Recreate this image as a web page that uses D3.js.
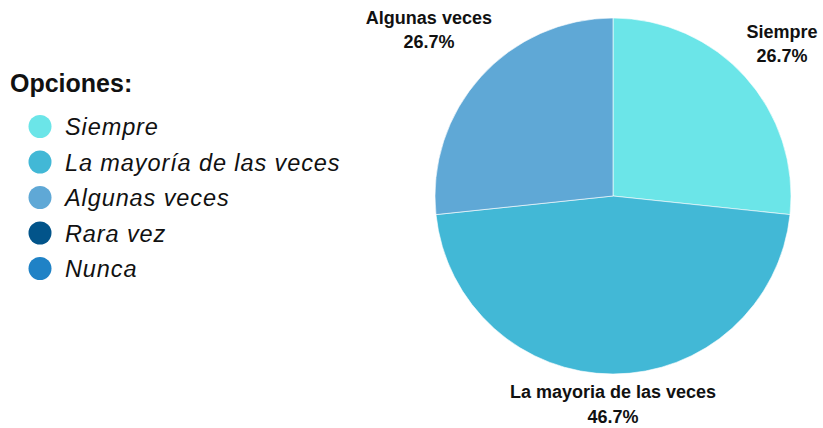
<!DOCTYPE html>
<html>
<head>
<meta charset="utf-8">
<script src="https://cdn.jsdelivr.net/npm/d3@7"></script>
<style>
  html, body { margin: 0; padding: 0; background: #fff; }
  svg { display: block; font-family: "Liberation Sans", Arial, sans-serif; }
</style>
</head>
<body>
<svg id="chart" width="823" height="428"></svg>
<script>
// opciones de la encuesta
const categorias = ['Siempre', 'La mayoría de las veces', 'Algunas veces', 'Rara vez', 'Nunca']
const etiquetasPie = ['Siempre', 'La mayoria de las veces', 'Algunas veces', 'Rara vez', 'Nunca']
const respuestas = [4, 7, 4, 0, 0]
const colores = ['#6be5e8', '#42b8d6', '#5fa8d6', '#02548a', '#1f82c6']

const width = 823, height = 428
const svg = d3.select('#chart')

const color = d3.scaleOrdinal().domain(categorias).range(colores)

// leyenda
const leyenda = svg.append('g').attr('transform', 'translate(10,0)')
leyenda.append('text')
  .attr('x', 0).attr('y', 92)
  .attr('font-size', 25).attr('font-weight', 'bold')
  .attr('fill', '#111')
  .text('Opciones:')

const fila = d3.scalePoint().domain(categorias).range([126.5, 268.5])

const item = leyenda.selectAll('.item')
  .data(categorias)
  .enter().append('g')
  .attr('class', 'item')
  .attr('transform', d => `translate(0,${fila(d)})`)

item.append('circle')
  .attr('cx', 30).attr('cy', 0).attr('r', 11.5)
  .attr('fill', d => color(d))

item.append('text')
  .attr('x', 55).attr('y', 8.5)
  .attr('font-size', 23.5).attr('font-style', 'italic')
  .attr('letter-spacing', 0.9)
  .attr('fill', '#111')
  .text(d => d)

// pastel
const cx = 613, cy = 196, r = 178
const datos = categorias.map((c, i) => ({ cat: c, etiqueta: etiquetasPie[i], valor: respuestas[i] }))
const total = d3.sum(respuestas)

const pie = d3.pie().value(d => d.valor).sort(null)
const arc = d3.arc().innerRadius(0).outerRadius(r)
const arcos = pie(datos).filter(d => d.data.valor > 0)

const g = svg.append('g').attr('transform', `translate(${cx},${cy})`)

g.selectAll('path')
  .data(arcos)
  .enter().append('path')
  .attr('d', arc)
  .attr('fill', d => color(d.data.cat))
  .attr('stroke', '#fff')
  .attr('stroke-opacity', 0.6)
  .attr('stroke-width', 1)

const fmt = d3.format('.1f')

const etiquetas = g.selectAll('.etiqueta')
  .data(arcos)
  .enter().append('text')
  .attr('class', 'etiqueta')
  .attr('text-anchor', 'middle')
  .attr('font-size', 18).attr('font-weight', 'bold')
  .attr('fill', '#111')

etiquetas.append('tspan').attr('x', 0).attr('dy', 0).text(d => d.data.etiqueta)
etiquetas.append('tspan').attr('x', 0).attr('dy', 24.5).text(d => fmt(d.data.valor / total * 100) + '%')

etiquetas.each(function(d) {
  const bb = this.getBBox()
  const a = (d.startAngle + d.endAngle) / 2
  const dx = Math.sin(a), dy = -Math.cos(a)
  const rad = r + 8 + Math.abs(dx) * bb.width / 2 + Math.abs(dy) * bb.height / 2
  let x = dx * rad
  let y = dy * rad
  // que no se salga del lienzo
  const maxX = width - 3 - cx - bb.width / 2
  const minX = 3 - cx + bb.width / 2
  x = Math.max(minX, Math.min(maxX, x))
  const maxY = height - cy - bb.height / 2
  y = Math.min(maxY, y)
  const offY = y - (bb.y + bb.height / 2)
  d3.select(this).attr('transform', `translate(${x},${offY})`)
})
</script>
</body>
</html>
